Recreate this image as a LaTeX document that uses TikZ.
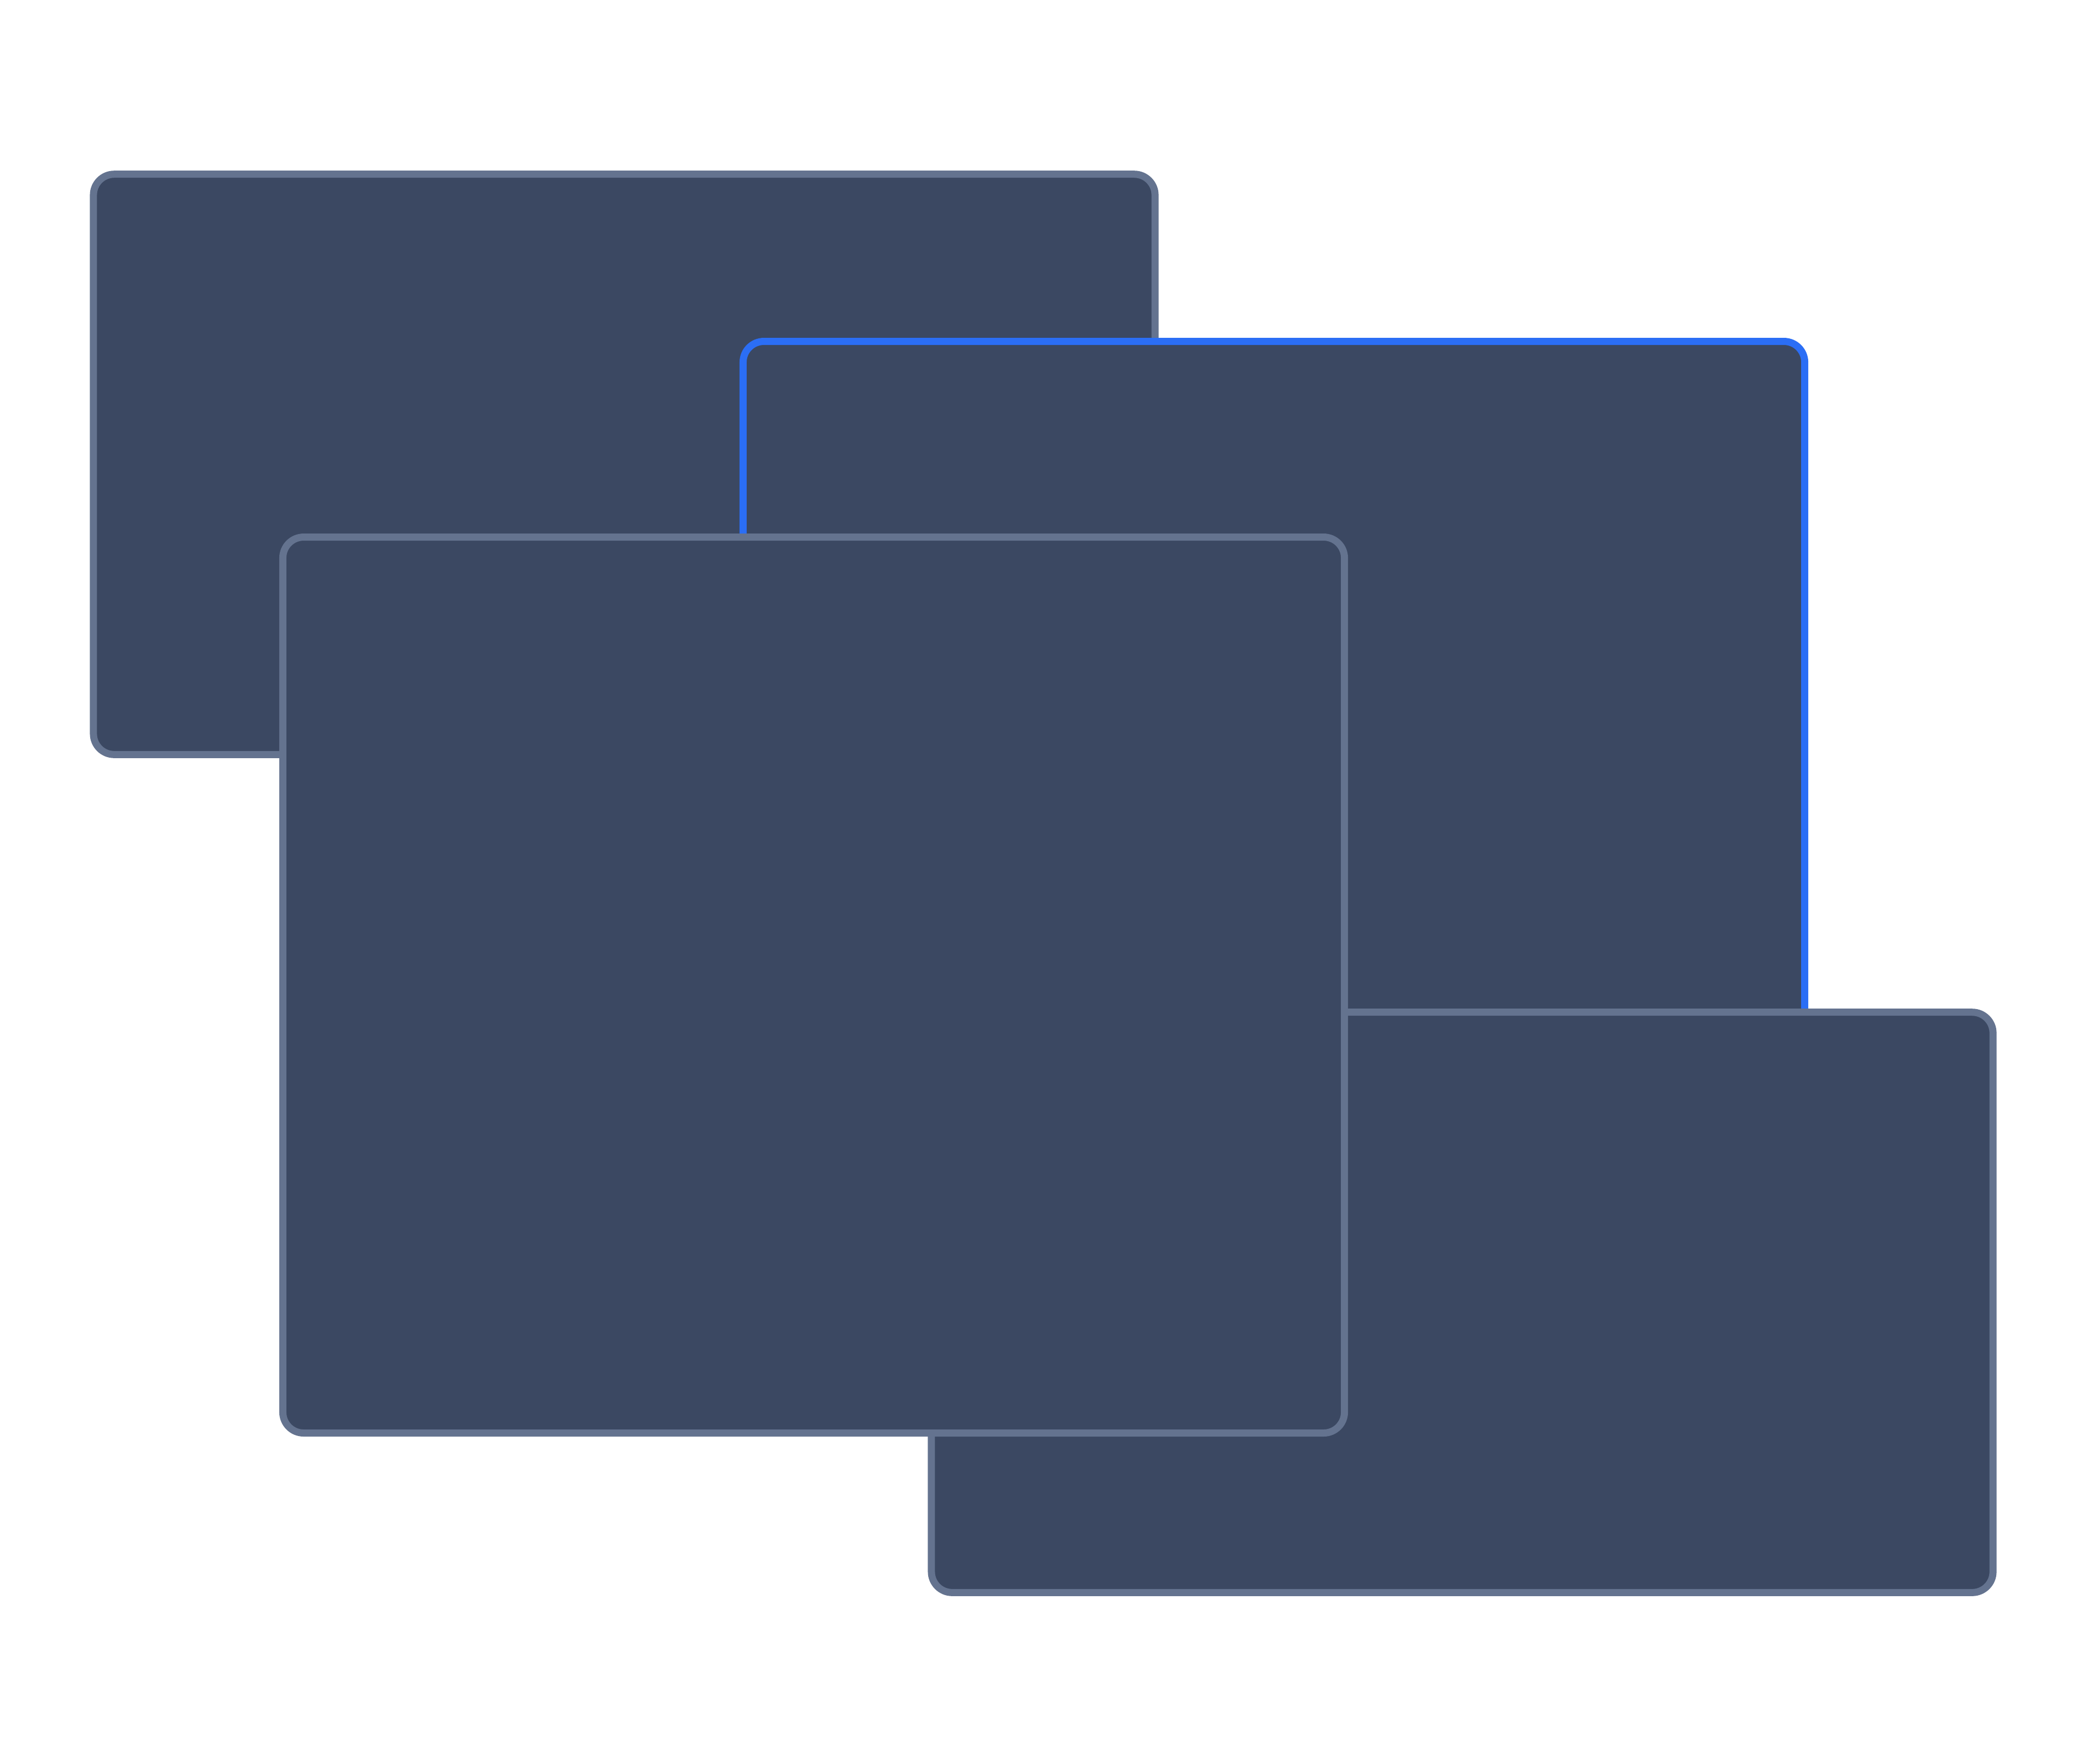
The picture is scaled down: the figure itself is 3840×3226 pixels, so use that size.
\documentclass[tikz,border=0pt]{standalone}
\usepackage{tikz}
\definecolor{cardfill}{HTML}{3B4862}
\definecolor{cardedge}{HTML}{64738F}
\definecolor{activeblue}{HTML}{2B6EF5}
\tikzstyle{card}=[rectangle,rounded corners=0.38cm,fill=cardfill,draw=cardedge,line width=0.13cm,inner sep=0pt,minimum width=19.41cm]
\tikzstyle{short card}=[card,minimum height=10.61cm]
\tikzstyle{tall card}=[card,minimum height=16.38cm]

\begin{document}
\begin{tikzpicture}[x=0.01cm,y=-0.01cm]
  \useasboundingbox (0,0) rectangle (3840,3226);

  % cards, back to front
  \node[short card] (back) at (1142,849.5) {};
  \node[tall card,draw=activeblue] (active) at (2330.5,1444) {};
  \node[short card] (lower) at (2675,2382.5) {};
  \node[tall card] (front) at (1488.5,1802) {};
\end{tikzpicture}
\end{document}
